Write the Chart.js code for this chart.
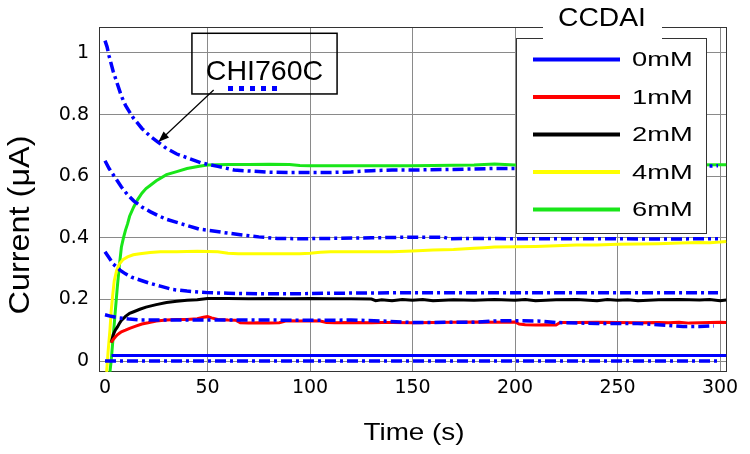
<!DOCTYPE html>
<html>
<head>
<meta charset="utf-8">
<script src="https://cdn.jsdelivr.net/npm/chart.js@4.4.1/dist/chart.umd.min.js"></script>
<style>
  html, body { margin: 0; padding: 0; background: #fff; }
  canvas { display: block; }
</style>
</head>
<body>
<canvas id="chart" width="750" height="454"></canvas>
<script>
// axis ticks
const xTicks = [0, 50, 100, 150, 200, 250, 300];
const yTicks = [0, 0.2, 0.4, 0.6, 0.8, 1];
const yTickLabels = ['0', '0.2', '0.4', '0.6', '0.8', '1'];

const seriesNames = ['0mM', '1mM', '2mM', '4mM', '6mM'];
const seriesColors = ['#0000ff', '#ff0000', '#000000', '#ffff00', '#19e619'];

// CCDAI curves: time (s) / current (uA)
const t0mM = [3.2, 50, 100, 150, 200, 250, 303];
const i0mM = [0.018, 0.018, 0.018, 0.018, 0.018, 0.018, 0.018];

const t1mM = [3, 4, 5, 6, 7, 8, 10, 12, 15, 18, 21, 25, 30, 35, 40, 45, 48, 50, 52, 55, 60, 64, 66, 70, 75, 80, 85, 88, 90, 95, 100, 105, 108, 112, 120, 130, 135, 140, 150, 160, 170, 180, 190, 200, 202, 205, 210, 215, 220, 222, 230, 240, 250, 260, 270, 275, 280, 285, 290, 295, 300, 303];
const i1mM = [0.06, 0.07, 0.078, 0.085, 0.09, 0.095, 0.1, 0.106, 0.113, 0.12, 0.124, 0.13, 0.133, 0.135, 0.135, 0.137, 0.142, 0.144, 0.14, 0.135, 0.133, 0.132, 0.124, 0.123, 0.124, 0.123, 0.124, 0.13, 0.131, 0.13, 0.131, 0.13, 0.125, 0.124, 0.125, 0.124, 0.125, 0.125, 0.124, 0.125, 0.126, 0.127, 0.126, 0.127, 0.12, 0.118, 0.117, 0.118, 0.117, 0.125, 0.125, 0.126, 0.125, 0.124, 0.125, 0.124, 0.126, 0.123, 0.124, 0.125, 0.126, 0.125];

const t2mM = [3, 4, 5, 6, 7, 8, 9, 10, 12, 14, 17, 20, 25, 30, 35, 40, 45, 50, 60, 70, 80, 90, 100, 110, 120, 130, 132, 135, 140, 145, 150, 155, 160, 170, 180, 190, 200, 205, 210, 220, 230, 240, 245, 250, 255, 260, 270, 280, 290, 295, 300, 303];
const i2mM = [0.06, 0.085, 0.1, 0.11, 0.122, 0.132, 0.138, 0.145, 0.155, 0.16, 0.168, 0.175, 0.183, 0.19, 0.194, 0.197, 0.199, 0.203, 0.203, 0.202, 0.203, 0.202, 0.203, 0.202, 0.202, 0.201, 0.196, 0.199, 0.196, 0.2, 0.197, 0.2, 0.196, 0.199, 0.197, 0.2, 0.197, 0.2, 0.196, 0.199, 0.2, 0.196, 0.2, 0.197, 0.199, 0.196, 0.199, 0.2, 0.198, 0.2, 0.196, 0.198];

const t4mM = [0.8, 1.5, 2.4, 3, 3.7, 4.5, 5.7, 7, 8.9, 11, 13.8, 17, 22, 27, 35, 45, 55, 60, 65, 80, 95, 100, 105, 110, 120, 140, 150, 160, 170, 180, 185, 190, 200, 210, 220, 230, 240, 250, 260, 270, 280, 290, 295, 300, 303];
const i4mM = [-0.035, 0.03, 0.1, 0.16, 0.21, 0.26, 0.295, 0.315, 0.33, 0.338, 0.345, 0.348, 0.352, 0.355, 0.355, 0.356, 0.355, 0.35, 0.348, 0.348, 0.348, 0.35, 0.353, 0.355, 0.355, 0.355, 0.357, 0.36, 0.362, 0.366, 0.368, 0.37, 0.371, 0.372, 0.374, 0.377, 0.377, 0.379, 0.38, 0.381, 0.383, 0.385, 0.384, 0.386, 0.388];

const t6mM = [2.4, 3, 4, 5, 6, 7, 8, 9, 10, 11, 12, 14, 16, 18, 20, 22, 25, 30, 35, 40, 46, 50, 60, 70, 80, 90, 95, 100, 120, 150, 180, 190, 200, 220, 250, 280, 300, 303];
const i6mM = [-0.035, 0.0, 0.08, 0.16, 0.24, 0.31, 0.37, 0.4, 0.425, 0.445, 0.47, 0.5, 0.525, 0.545, 0.56, 0.57, 0.585, 0.605, 0.615, 0.625, 0.632, 0.636, 0.638, 0.638, 0.639, 0.638, 0.635, 0.634, 0.634, 0.634, 0.636, 0.64, 0.636, 0.636, 0.636, 0.636, 0.637, 0.637];

// CHI760C reference curves (dash-dot)
const tRefA = [0, 1, 2, 4, 6, 8, 10, 13.7, 18, 22, 26, 30, 35, 40, 47, 55, 63, 70, 80, 90, 100, 110, 120, 130, 140, 150, 170, 190, 210, 230, 250, 270, 290, 299];
const iRefA = [1.04, 1.02, 0.99, 0.94, 0.9, 0.86, 0.83, 0.79, 0.755, 0.73, 0.71, 0.69, 0.672, 0.66, 0.643, 0.632, 0.62, 0.617, 0.613, 0.612, 0.612, 0.612, 0.614, 0.618, 0.62, 0.62, 0.622, 0.625, 0.625, 0.627, 0.628, 0.63, 0.632, 0.634];

const tRefB = [0, 2, 5, 8, 11, 14, 18, 22, 26, 30, 35, 40, 46, 52, 58, 66, 75, 84, 95, 110, 130, 150, 165, 168, 180, 200, 220, 250, 270, 299];
const iRefB = [0.65, 0.625, 0.595, 0.565, 0.54, 0.52, 0.5, 0.485, 0.472, 0.46, 0.45, 0.44, 0.428, 0.423, 0.417, 0.41, 0.403, 0.398, 0.397, 0.398, 0.4, 0.402, 0.402, 0.397, 0.398, 0.397, 0.397, 0.397, 0.396, 0.397];

const tRefC = [0, 2, 4, 7.3, 10, 13, 17, 22, 27, 33, 40, 50, 60, 75, 90, 110, 130, 150, 200, 250, 299];
const iRefC = [0.355, 0.335, 0.315, 0.295, 0.283, 0.272, 0.263, 0.252, 0.243, 0.232, 0.227, 0.222, 0.22, 0.218, 0.218, 0.22, 0.221, 0.222, 0.222, 0.222, 0.222];

const tRefD = [0, 3, 7, 12, 17, 30, 50, 80, 100, 120, 135, 150, 180, 193, 211, 220, 240, 260, 282, 290, 297];
const iRefD = [0.15, 0.145, 0.14, 0.136, 0.133, 0.133, 0.133, 0.133, 0.132, 0.133, 0.13, 0.125, 0.126, 0.131, 0.13, 0.125, 0.122, 0.122, 0.112, 0.112, 0.114];

const tRefE = [0, 299];
const iRefE = [0, 0];

// annotation (data units)
const noteText = 'CHI760C';
const noteBox = { x0: 42.4, x1: 113.2, y0: 1.064, y1: 0.867 };
const noteSample = { x0: 60, x1: 84, y: 0.885 };
const noteArrow = { x0: 53, y0: 0.88, x1: 26, y1: 0.711 };

const toPoints = (ts, vs) => ts.map((t, k) => ({ x: t, y: vs[k] }));

const solid = (k, ts, vs) => ({
    label: seriesNames[k],
    data: toPoints(ts, vs),
    borderColor: seriesColors[k],
    borderWidth: 3,
    pointRadius: 0,
    tension: 0,
    fill: false,
    order: 2
});

const dashDot = (ts, vs) => ({
    label: 'CHI760C',
    data: toPoints(ts, vs),
    borderColor: '#0000ff',
    borderWidth: 3.5,
    borderDash: [11, 4, 3, 4],
    pointRadius: 0,
    tension: 0,
    fill: false,
    order: 1
});

const FONT = '"Liberation Sans", Arial, Helvetica, sans-serif';

function drawText(ctx, s, x, y, size, stretch, align, rot) {
    ctx.save();
    ctx.translate(x, y);
    if (rot) ctx.rotate(rot);
    ctx.scale(stretch, 1);
    ctx.font = size + 'px ' + FONT;
    ctx.textAlign = align || 'left';
    ctx.textBaseline = 'alphabetic';
    ctx.fillStyle = '#000';
    ctx.fillText(s, 0, 0);
    ctx.restore();
}

const decor = {
    id: 'decor',
    beforeDatasetsDraw(chart) {
        const { ctx, chartArea: a } = chart;
        ctx.save();
        ctx.strokeStyle = '#333';
        ctx.lineWidth = 1;
        ctx.strokeRect(a.left + 0.5, a.top + 0.5, a.right - a.left - 1, a.bottom - a.top - 1);
        ctx.restore();
    },
    afterDatasetsDraw(chart) {
        const { ctx } = chart;
        const xs = chart.scales.x, ys = chart.scales.y;
        const px = v => xs.getPixelForValue(v), py = v => ys.getPixelForValue(v);

        // annotation box
        ctx.save();
        ctx.strokeStyle = '#000';
        ctx.lineWidth = 1.5;
        ctx.strokeRect(px(noteBox.x0), py(noteBox.y0), px(noteBox.x1) - px(noteBox.x0), py(noteBox.y1) - py(noteBox.y0));
        ctx.restore();
        drawText(ctx, noteText, (px(noteBox.x0) + px(noteBox.x1)) / 2, 80, 28, 1.02, 'center');
        ctx.save();
        ctx.strokeStyle = '#0000ff';
        ctx.lineWidth = 5;
        ctx.setLineDash([5, 6]);
        ctx.beginPath();
        ctx.moveTo(px(noteSample.x0), py(noteSample.y));
        ctx.lineTo(px(noteSample.x1), py(noteSample.y));
        ctx.stroke();
        ctx.restore();

        // arrow
        const ax0 = px(noteArrow.x0), ay0 = py(noteArrow.y0), ax1 = px(noteArrow.x1), ay1 = py(noteArrow.y1);
        const ang = Math.atan2(ay1 - ay0, ax1 - ax0);
        ctx.save();
        ctx.strokeStyle = '#000';
        ctx.fillStyle = '#000';
        ctx.lineWidth = 1.2;
        ctx.beginPath();
        ctx.moveTo(ax0, ay0);
        ctx.lineTo(ax1 - 8 * Math.cos(ang), ay1 - 8 * Math.sin(ang));
        ctx.stroke();
        ctx.beginPath();
        ctx.moveTo(ax1, ay1);
        ctx.lineTo(ax1 - 11 * Math.cos(ang) + 4 * Math.sin(ang), ay1 - 11 * Math.sin(ang) - 4 * Math.cos(ang));
        ctx.lineTo(ax1 - 11 * Math.cos(ang) - 4 * Math.sin(ang), ay1 - 11 * Math.sin(ang) + 4 * Math.cos(ang));
        ctx.closePath();
        ctx.fill();
        ctx.restore();

        // legend
        const L = { left: 516, top: 38, right: 706, bottom: 233 };
        ctx.save();
        ctx.fillStyle = '#fff';
        ctx.fillRect(L.left, L.top, L.right - L.left, L.bottom - L.top);
        ctx.strokeStyle = '#333';
        ctx.lineWidth = 1;
        ctx.strokeRect(L.left + 0.5, L.top + 0.5, L.right - L.left, L.bottom - L.top);
        // gap for the title
        ctx.fillStyle = '#fff';
        ctx.fillRect(543, 0, 119, L.top + 3);
        ctx.restore();
        drawText(ctx, 'CCDAI', 602, 26, 25, 1.13, 'center');
        seriesNames.forEach((name, k) => {
            const y = 59.5 + k * 37.5;
            ctx.save();
            ctx.strokeStyle = seriesColors[k];
            ctx.lineWidth = 4;
            ctx.beginPath();
            ctx.moveTo(533, y);
            ctx.lineTo(620, y);
            ctx.stroke();
            ctx.restore();
            drawText(ctx, name, 632, y + 6.5, 21, 1.3, 'left');
        });

        // axis titles
        drawText(ctx, 'Time (s)', 414, 440, 24, 1.16, 'center');
        drawText(ctx, 'Current (\u03bcA)', 29, 225, 30, 1.08, 'center', -Math.PI / 2);
    }
};

new Chart(document.getElementById('chart'), {
    type: 'line',
    data: {
        datasets: [
            solid(0, t0mM, i0mM),
            solid(1, t1mM, i1mM),
            solid(2, t2mM, i2mM),
            solid(3, t4mM, i4mM),
            solid(4, t6mM, i6mM),
            dashDot(tRefA, iRefA),
            dashDot(tRefB, iRefB),
            dashDot(tRefC, iRefC),
            dashDot(tRefD, iRefD),
            dashDot(tRefE, iRefE)
        ]
    },
    options: {
        responsive: false,
        animation: false,
        devicePixelRatio: 1,
        layout: { padding: { left: 0, top: 27, right: 23, bottom: 0 } },
        plugins: { legend: { display: false }, tooltip: { enabled: false } },
        scales: {
            x: {
                type: 'linear',
                min: -2.93,
                max: 303.4,
                afterBuildTicks: s => { s.ticks = xTicks.map(v => ({ value: v })); },
                afterFit: s => { s.height = 82; },
                border: { display: false },
                grid: {
                    drawTicks: false,
                    color: c => (c.tick && c.tick.value === 0) ? 'rgba(0,0,0,0)' : '#8a8a8a',
                    lineWidth: 1
                },
                ticks: {
                    maxRotation: 0,
                    autoSkip: false,
                    padding: 5,
                    color: '#000',
                    font: { family: '"DejaVu Sans", sans-serif', size: 19 }
                }
            },
            y: {
                min: -0.0357,
                max: 1.0844,
                afterBuildTicks: s => { s.ticks = yTicks.map(v => ({ value: v })); },
                afterFit: s => { s.width = 99; },
                border: { display: false },
                grid: { drawTicks: false, color: '#8a8a8a', lineWidth: 1 },
                ticks: {
                    autoSkip: false,
                    padding: 10,
                    color: '#000',
                    font: { family: '"DejaVu Sans", sans-serif', size: 19 },
                    callback: (v, k) => yTickLabels[k]
                }
            }
        }
    },
    plugins: [decor]
});
</script>
</body>
</html>
